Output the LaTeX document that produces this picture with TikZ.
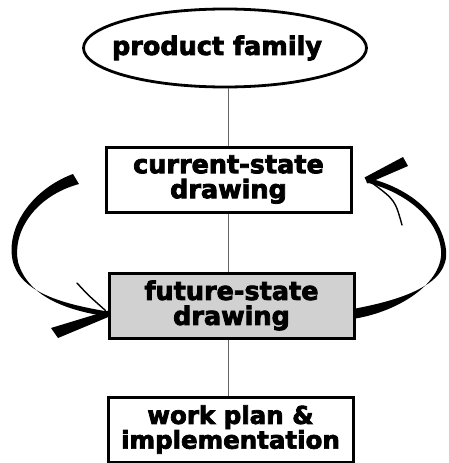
\documentclass[tikz,border=0pt]{standalone}
\usepackage{fontspec}
\newfontfamily\heavy{DejaVu Sans}[BoldFeatures={FakeBold=3}]
\usetikzlibrary{shapes.geometric,calc}
\begin{document}
\begin{tikzpicture}[x=1pt,y=-1pt,
  lbl/.style={font=\heavy\bfseries\fontsize{25.5}{25}\selectfont, align=center, inner sep=0pt},
  ell/.style={lbl, ellipse, draw, line width=2.8pt, minimum width=283pt, minimum height=78pt},
  box/.style={lbl, rectangle, draw, line width=3pt, minimum width=245pt, minimum height=65pt},
  conn/.style={draw=black!60, line width=1.7pt},
  brush/.style={fill=black, draw=none},
  thinbarb/.style={draw=black, line width=1.4pt, line cap=round}]
\useasboundingbox (0,0) rectangle (449,463);
\node[ell] (pf) at (225,48) {\makebox[0pt]{product family\hspace*{16pt}}};
\node[box] (cur) at (228.5,179.5) {current-state\\drawing};
\node[box, fill=black!18] (fut) at (231.5,305.5) {future-state\\drawing};
\node[box, font=\heavy\bfseries\fontsize{24.5}{21}\selectfont] (work) at (230.5,429.5) {work plan \&\\implementation};
% connectors
\draw[conn] (cur.north |- pf.south) -- (cur.north);
\draw[conn] (cur.south) -- (cur.south |- fut.north);
\draw[conn] (fut.south -| cur.south) -- (work.north -| cur.south);
% left curved arrow (into future-state)
\coordinate (ltip) at (fut.west);
\fill[brush] (73,174) .. controls (30,190) and (5,230) .. (13,262)
  .. controls (22,295) and (70,305) .. ($(ltip)+(0,6)$)
  -- ($(ltip)+(0,11)$) .. controls (70,311) and (28,298) .. (18,262)
  .. controls (12,232) and (35,196) .. (79,184) -- cycle;
\fill[brush] (51,328) -- ($(ltip)+(1,5)$) -- ($(ltip)+(2,11)$) -- (58,338) -- cycle;
\draw[thinbarb] (77,283) .. controls (88,295) .. ($(ltip)+(-2,5)$);
% right curved arrow (future-state back to current-state)
\coordinate (rtip) at ($(cur.east)+(14,0)$);
\fill[brush] ($(fut.east)+(0,3)$) .. controls (400,300) and (450,285) .. (446,250)
  .. controls (442,215) and (410,188) .. ($(rtip)+(0,-2)$)
  -- ($(rtip)+(0,3)$) .. controls (405,192) and (438,218) .. (441,250)
  .. controls (444,282) and (400,311) .. ($(fut.east)+(0,13)$) -- cycle;
\fill[brush] (403,157) -- ($(rtip)+(-2,-2)$) -- ($(rtip)+(1,4)$) -- (408,166) -- cycle;
\draw[thinbarb] (402,225) .. controls (395,200) .. ($(rtip)+(5,3)$);
\end{tikzpicture}
\end{document}
